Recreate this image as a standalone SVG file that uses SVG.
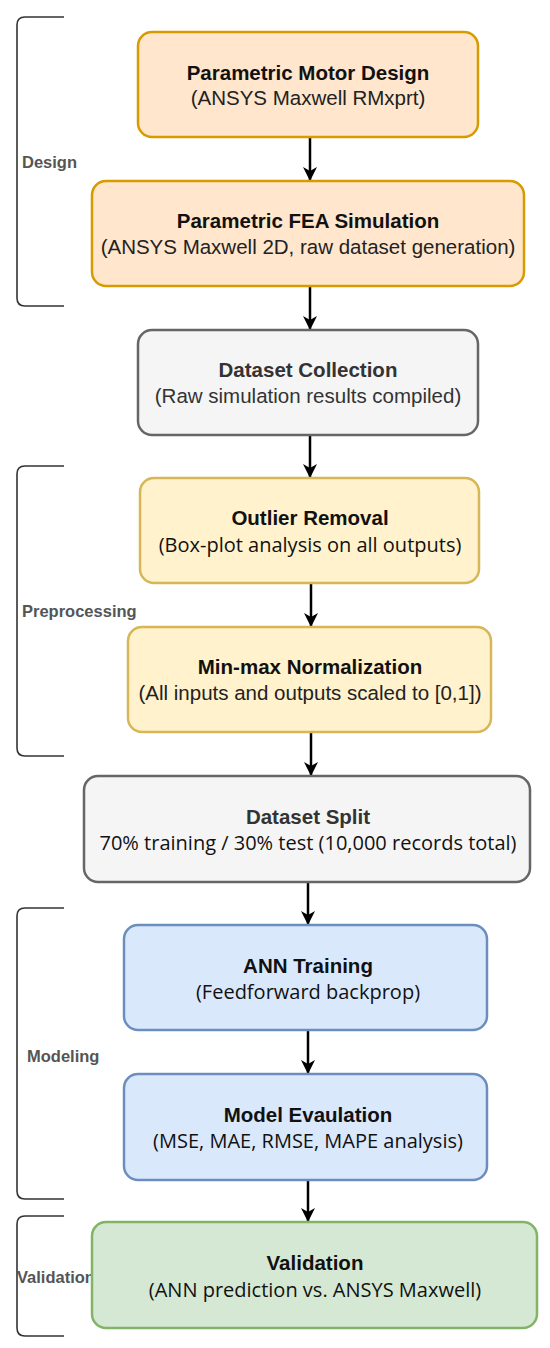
<svg xmlns="http://www.w3.org/2000/svg" width="550" height="1348" viewBox="0 0 550 1348">
<style>
.t{font-family:"Liberation Sans",Arial,sans-serif;font-size:20.5px;font-weight:bold;fill:#111;text-anchor:middle}
.s{font-family:"Liberation Sans",Arial,sans-serif;font-size:20.5px;fill:#222;text-anchor:middle}
.u{font-family:"Open Sans","Noto Sans",sans-serif;font-size:20px;fill:#111;text-anchor:middle}
.lab{font-family:"Liberation Sans",Arial,sans-serif;font-size:16.5px;font-weight:bold;fill:#555}
.br{fill:none;stroke:#333;stroke-width:1.6}
.or{fill:#ffe6cc;stroke:#d79b00;stroke-width:2.5}
.gr{fill:#f5f5f5;stroke:#666;stroke-width:2.5}
.ye{fill:#fff2cc;stroke:#d6b656;stroke-width:2.5}
.bl{fill:#dae8fc;stroke:#6c8ebf;stroke-width:2.5}
.gn{fill:#d5e8d4;stroke:#82b366;stroke-width:2.5}
.c{stroke:#000;stroke-width:2.5;fill:none;marker-end:url(#ah)}
</style>
<defs>
<marker id="ah" markerUnits="userSpaceOnUse" markerWidth="16" markerHeight="16" refX="14" refY="7" orient="auto">
<path d="M0,0 L14,7 L0,14 L4,7 Z" fill="#000"/>
</marker>
</defs>
<rect width="550" height="1348" fill="#fff"/>
<g id="brackets">
<path class="br" d="M64,17 H25 Q17,17 17,25 V298 Q17,306 25,306 H64"/>
<text class="lab" x="22" y="168">Design</text>
<path class="br" d="M64,466 H25 Q17,466 17,474 V748 Q17,756 25,756 H64"/>
<text class="lab" x="22" y="617">Preprocessing</text>
<path class="br" d="M64,908 H25 Q17,908 17,916 V1191 Q17,1199 25,1199 H64"/>
<text class="lab" x="27" y="1062">Modeling</text>
<path class="br" d="M64,1216 H25 Q17,1216 17,1224 V1328 Q17,1336 25,1336 H64"/>
<text class="lab" x="17" y="1283">Validation</text>
</g>
<g id="connectors">
<path class="c" d="M310,137 V181"/>
<path class="c" d="M310,286 V330"/>
<path class="c" d="M310,435 V478"/>
<path class="c" d="M311,583 V627"/>
<path class="c" d="M311,732 V776"/>
<path class="c" d="M308,882 V925"/>
<path class="c" d="M308,1030 V1074"/>
<path class="c" d="M308,1180 V1222"/>
</g>
<g id="n1"><rect class="or" x="138" y="32" width="340" height="105" rx="14"/>
<text class="t" x="308" y="80">Parametric Motor Design</text>
<text class="s" x="308" y="105">(ANSYS Maxwell RMxprt)</text></g>
<g id="n2"><rect class="or" x="92" y="181" width="432" height="105" rx="14"/>
<text class="t" x="308" y="228">Parametric FEA Simulation</text>
<text class="s" x="308" y="254">(ANSYS Maxwell 2D, raw dataset generation)</text></g>
<g id="n3"><rect class="gr" x="138" y="330" width="340" height="105" rx="14"/>
<text class="t" x="308" y="377" style="fill:#333">Dataset Collection</text>
<text class="s" x="308" y="403" style="fill:#333">(Raw simulation results compiled)</text></g>
<g id="n4"><rect class="ye" x="140" y="478" width="339" height="105" rx="14"/>
<text class="t" x="310" y="525">Outlier Removal</text>
<text class="u" x="310" y="552">(Box-plot analysis on all outputs)</text></g>
<g id="n5"><rect class="ye" x="128" y="627" width="363" height="105" rx="14"/>
<text class="t" x="310" y="674">Min-max Normalization</text>
<text class="s" x="310" y="700">(All inputs and outputs scaled to [0,1])</text></g>
<g id="n6"><rect class="gr" x="84" y="776" width="446" height="106" rx="14"/>
<text class="t" x="308" y="824" style="fill:#333">Dataset Split</text>
<text class="u" x="308" y="850">70% training / 30% test (10,000 records total)</text></g>
<g id="n7"><rect class="bl" x="124" y="925" width="363" height="105" rx="14"/>
<text class="t" x="308" y="973">ANN Training</text>
<text class="u" x="308" y="999">(Feedforward backprop)</text></g>
<g id="n8"><rect class="bl" x="124" y="1074" width="363" height="106" rx="14"/>
<text class="t" x="308" y="1122">Model Evaulation</text>
<text class="u" x="308" y="1148">(MSE, MAE, RMSE, MAPE analysis)</text></g>
<g id="n9"><rect class="gn" x="92" y="1222" width="445" height="106" rx="14"/>
<text class="t" x="315" y="1270">Validation</text>
<text class="u" x="315" y="1297">(ANN prediction vs. ANSYS Maxwell)</text></g>
</svg>
